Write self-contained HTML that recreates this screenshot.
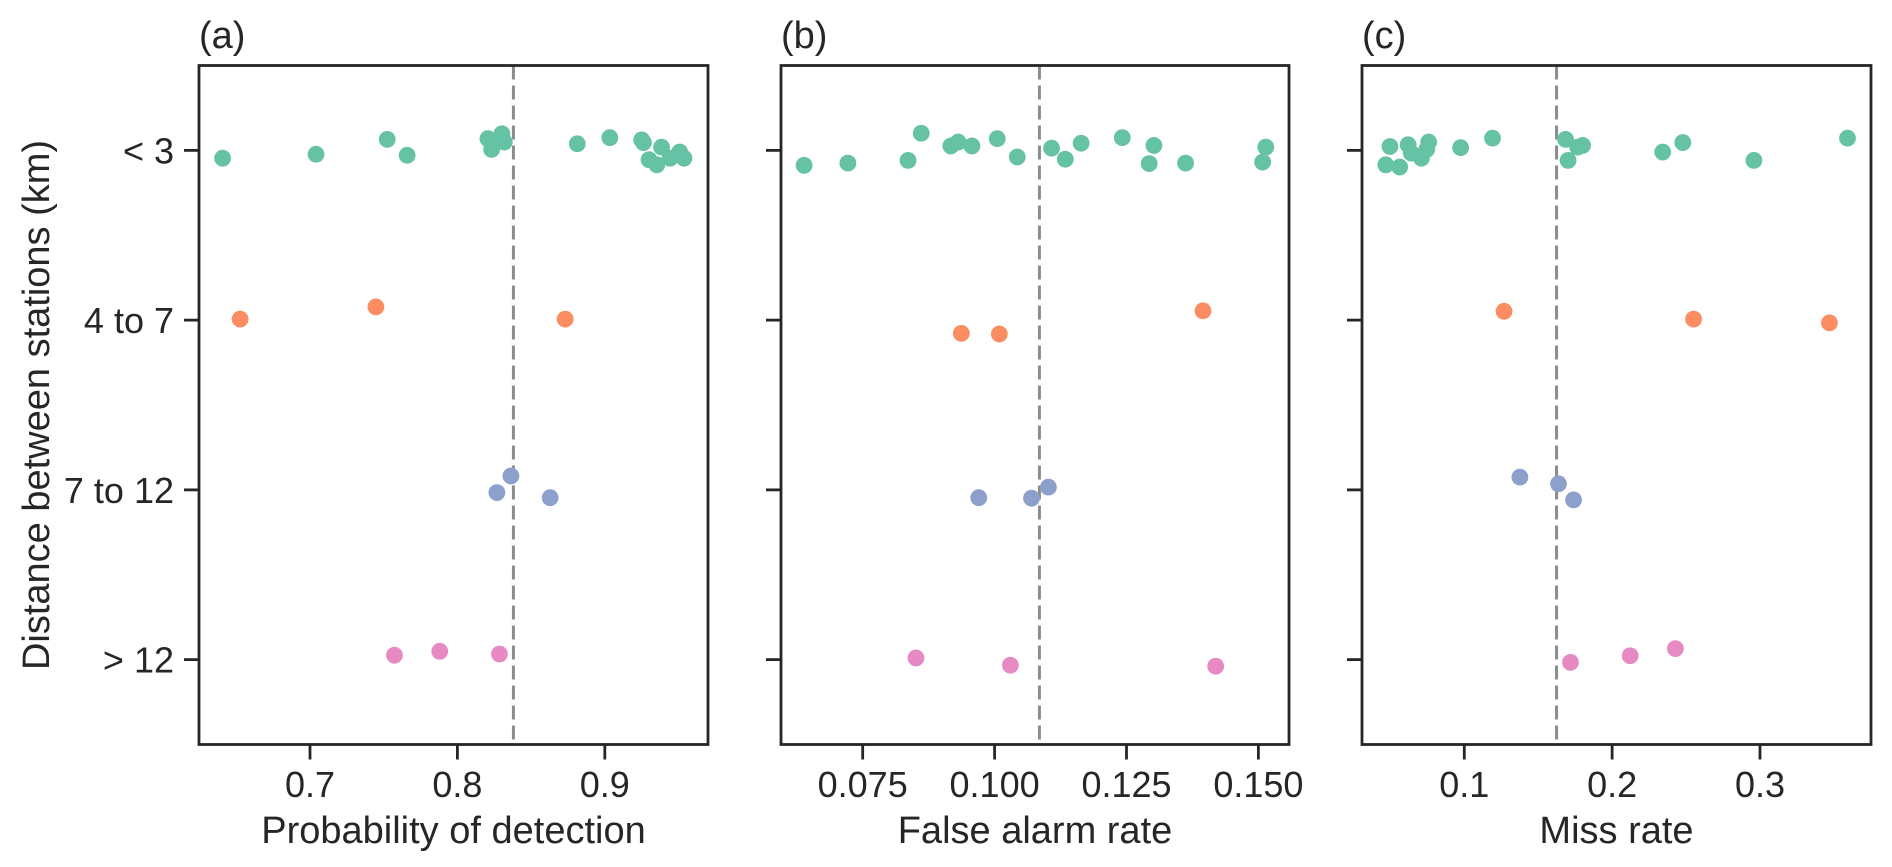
<!DOCTYPE html>
<html><head><meta charset="utf-8"><style>
html,body{margin:0;padding:0;background:#fff;}
svg{display:block;font-family:"Liberation Sans",Arial,sans-serif;}
</style></head><body>
<svg id="chart" width="1892" height="867" viewBox="0 0 1892 867" xmlns="http://www.w3.org/2000/svg"></svg>
<script>
const categories = ["< 3", "4 to 7", "7 to 12", "> 12"];
const colors = ["#66c2a5", "#fc8d62", "#8da0cb", "#e78ac3"];

// Panel (a) Probability of detection
const podValues = [
  [0.6407,0.7041,0.7524,0.7659,0.8207,0.8302,0.8232,0.8318,0.8813,0.9034,0.9250,0.9262,0.9300,0.9353,0.9385,0.9443,0.9508,0.9537],
  [0.6526,0.7447,0.8731],
  [0.8363,0.8268,0.8629],
  [0.7573,0.7880,0.8285]
];
const podJitter = [
  [0.046,0.023,-0.065,0.029,-0.069,-0.098,-0.006,-0.049,-0.039,-0.075,-0.062,-0.046,0.055,0.085,-0.019,0.046,0.010,0.046],
  [-0.006,-0.078,-0.006],
  [-0.082,0.016,0.046],
  [-0.026,-0.049,-0.033]
];
const podTicks = [0.7, 0.8, 0.9];
const podTickLabels = ["0.7", "0.8", "0.9"];
const podMean = 0.838;

// Panel (b) False alarm rate
const farValues = [
  [0.0639,0.0722,0.0836,0.0861,0.0917,0.0931,0.0957,0.1005,0.1043,0.1108,0.1134,0.1164,0.1242,0.1293,0.1302,0.1362,0.1508,0.1514],
  [0.0937,0.1009,0.1395],
  [0.0970,0.1070,0.1102],
  [0.0851,0.1030,0.1419]
];
const farJitter = [
  [0.088,0.075,0.059,-0.101,-0.026,-0.049,-0.026,-0.069,0.039,-0.013,0.052,-0.042,-0.075,0.078,-0.029,0.075,0.069,-0.019],
  [0.078,0.082,-0.055],
  [0.046,0.049,-0.016],
  [-0.010,0.033,0.039]
];
const farTicks = [0.075, 0.100, 0.125, 0.150];
const farTickLabels = ["0.075", "0.100", "0.125", "0.150"];
const farMean = 0.1085;

// Panel (c) Miss rate
const missValues = [
  [0.0497,0.0469,0.0563,0.0620,0.0641,0.0710,0.0746,0.0759,0.0975,0.1191,0.1685,0.1702,0.1767,0.1800,0.2342,0.2478,0.2959,0.3592],
  [0.1269,0.2551,0.3470],
  [0.1376,0.1637,0.1739],
  [0.1718,0.2122,0.2428]
];
const missJitter = [
  [-0.023,0.085,0.098,-0.033,0.016,0.046,-0.006,-0.049,-0.016,-0.072,-0.065,0.059,-0.019,-0.029,0.010,-0.046,0.059,-0.072],
  [-0.052,-0.006,0.016],
  [-0.075,-0.036,0.059],
  [0.016,-0.023,-0.065]
];
const missTicks = [0.1, 0.2, 0.3];
const missTickLabels = ["0.1", "0.2", "0.3"];
const missMean = 0.1624;

const NS = "http://www.w3.org/2000/svg";
const svg = document.getElementById("chart");
const TOP = 65.5, BOT = 744.5;
function yScale(c){ return TOP + (c + 0.5) / 4 * (BOT - TOP); }
function mk(tag, attrs, parent){
  const e = document.createElementNS(NS, tag);
  for (const k in attrs) e.setAttribute(k, attrs[k]);
  (parent || svg).appendChild(e);
  return e;
}
const panels = [
  {key:"a", title:"(a)", left:199, right:708, dmin:0.6247, dmax:0.9700, vals:podValues, jit:podJitter, ticks:podTicks, labels:podTickLabels, mean:podMean, xlabel:"Probability of detection"},
  {key:"b", title:"(b)", left:781, right:1289, dmin:0.05952, dmax:0.15580, vals:farValues, jit:farJitter, ticks:farTicks, labels:farTickLabels, mean:farMean, xlabel:"False alarm rate"},
  {key:"c", title:"(c)", left:1362, right:1871, dmin:0.0308, dmax:0.3751, vals:missValues, jit:missJitter, ticks:missTicks, labels:missTickLabels, mean:missMean, xlabel:"Miss rate"}
];
panels.forEach((p, pi) => {
  const g = mk("g", {});
  
  
  const xs = v => p.left + (v - p.dmin) / (p.dmax - p.dmin) * (p.right - p.left);
  const ml = mk("line", {x1:xs(p.mean), x2:xs(p.mean), y1:TOP, y2:BOT, stroke:"#8c8c8c", "stroke-width":3, "stroke-dasharray":"14 6"}, g);
  
  
  p.vals.forEach((arr, ci) => {
    arr.forEach((v, i) => {
      const c = mk("circle", {cx:xs(v), cy:yScale(ci + p.jit[ci][i]), r:8.4, fill:colors[ci]}, g);
      
      
    });
  });
  const fr = mk("rect", {x:p.left, y:TOP, width:p.right - p.left, height:BOT - TOP, fill:"none", stroke:"#262626", "stroke-width":2.8}, g);
  
  
  categories.forEach((cat, ci) => {
    const y = yScale(ci);
    const t = mk("line", {x1:p.left - 15, x2:p.left, y1:y, y2:y, stroke:"#262626", "stroke-width":2.8}, g);
    
    
    if (pi === 0) {
      const tx = mk("text", {x:p.left - 25, y:y + 13, "text-anchor":"end", "font-size":36, fill:"#262626"}, g);
      tx.textContent = cat;
      
      
    }
  });
  p.ticks.forEach((v, i) => {
    const x = xs(v);
    const t = mk("line", {x1:x, x2:x, y1:BOT, y2:BOT + 15, stroke:"#262626", "stroke-width":2.8}, g);
    
    
    const tx = mk("text", {x:x, y:797, "text-anchor":"middle", "font-size":36, fill:"#262626"}, g);
    tx.textContent = p.labels[i];
    
    
  });
  const xl = mk("text", {x:(p.left + p.right) / 2, y:843, "text-anchor":"middle", "font-size":38, fill:"#262626"}, g);
  xl.textContent = p.xlabel;
  
  
  const tt = mk("text", {x:p.left, y:48, "font-size":38, fill:"#262626"}, g);
  tt.textContent = p.title;
  
  
});
const yl = mk("text", {x:0, y:0, transform:"translate(49,405) rotate(-90)", "text-anchor":"middle", "font-size":38, fill:"#262626"});
yl.textContent = "Distance between stations (km)";


</script>
</body></html>
